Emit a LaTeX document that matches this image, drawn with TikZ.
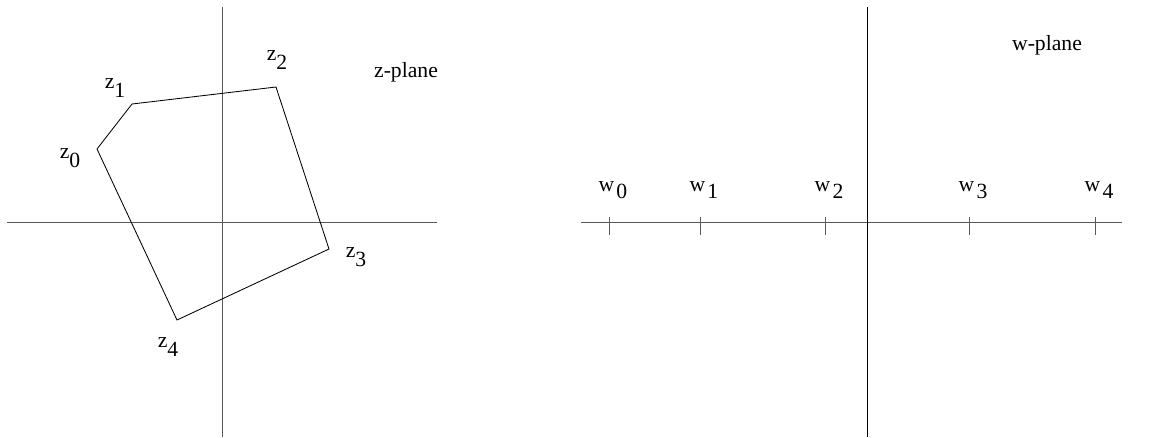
\documentclass[tikz,border=0pt]{standalone}
\usepackage{fontspec}
\setmainfont{Liberation Serif}
\usetikzlibrary{positioning}
\newcommand{\zlab}[1]{z\raisebox{-0.45em}{#1}}
\newcommand{\wlab}[1]{w\hspace{0.1em}\raisebox{-0.3em}{#1}}

\begin{document}
\begin{tikzpicture}[
  x=0.025cm, y=-0.025cm,
  axis/.style={draw=black!65, line width=0.7pt},
  poly/.style={draw=black, line width=0.6pt, line join=miter},
  lbl/.style={inner sep=0pt},
  every node/.style={font=\fontsize{15.4}{18}\selectfont}
]
  \useasboundingbox (0,0) rectangle (1162,437);

  % z-plane
  \draw[axis] (7,222) -- (437,222);
  \draw[axis] (222,7) -- (222,437);
  \coordinate (z0) at (97,149);
  \coordinate (z1) at (132,104);
  \coordinate (z2) at (276,87);
  \coordinate (z3) at (329,249);
  \coordinate (z4) at (177,320);
  \draw[poly] (z0) -- (z1) -- (z2) -- (z3) -- (z4) -- cycle;
  \node[lbl] (lz0) at (70,158) {\zlab{0}};
  \node[lbl] (lz1) at (115,88) {\zlab{1}};
  \node[lbl] (lz2) at (277,60) {\zlab{2}};
  \node[lbl] (lz3) at (356,257) {\zlab{3}};
  \node[lbl] (lz4) at (168,347) {\zlab{4}};
  \node[lbl] (zplane) at (406,72) {z-plane};

  % w-plane
  \draw[axis] (581,222) -- (1122,222);
  \draw[axis, draw=black] (867,7) -- (867,437);
  \foreach \i/\x in {0/609,1/700,2/825,3/969,4/1095} {
    \draw[axis] (\x,217) -- (\x,235);
    \node[lbl] (lw\i) at (\x+4,190) {\wlab{\i}};
  }
  \node[lbl] (wplane) at (1047,45) {w-plane};
\end{tikzpicture}
\end{document}
